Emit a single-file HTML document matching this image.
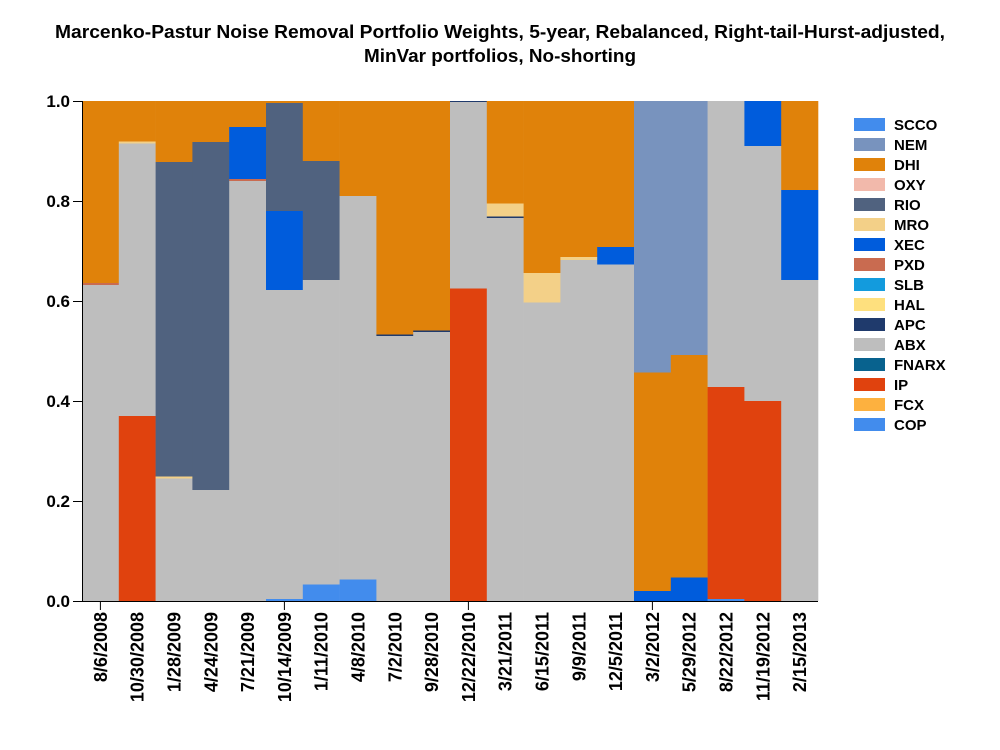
<!DOCTYPE html>
<html><head><meta charset="utf-8"><style>body{margin:0;background:#fff}svg{display:block;font-family:"Liberation Sans",Arial,sans-serif;font-weight:bold}</style></head>
<body>
<svg width="1000" height="750" viewBox="0 0 1000 750" xmlns="http://www.w3.org/2000/svg">
<text x="500" y="38" text-anchor="middle" font-size="18" textLength="890" lengthAdjust="spacingAndGlyphs">Marcenko-Pastur Noise Removal Portfolio Weights, 5-year, Rebalanced, Right-tail-Hurst-adjusted,</text>
<text x="500" y="62" text-anchor="middle" font-size="18" textLength="272" lengthAdjust="spacingAndGlyphs">MinVar portfolios, No-shorting</text>
<g id="bars"></g>
<line x1="82.5" y1="101" x2="82.5" y2="601" stroke="#000"/>
<line x1="82" y1="601.5" x2="818" y2="601.5" stroke="#000"/>
<g id="axes" font-size="18"></g>
<g id="leg" font-size="15"></g>
<script>
const C={SCCO:"#428ced",NEM:"#7893be",DHI:"#e0820a",OXY:"#f2b9ab",RIO:"#50627f",MRO:"#f3d088",XEC:"#005cdc",PXD:"#c96b50",SLB:"#139bdd",HAL:"#fee07e",APC:"#1f3a6c",ABX:"#bebebe",FNARX:"#08628e",IP:"#e0420e",FCX:"#fdb13f",COP:"#428ced"};
const D=[
[["ABX",.632],["PXD",.004],["DHI",1]],
[["IP",.37],["ABX",.545],["MRO",.004],["DHI",1]],
[["ABX",.245],["MRO",.004],["RIO",.629],["DHI",1]],
[["ABX",.222],["RIO",.696],["DHI",1]],
[["ABX",.84],["PXD",.004],["XEC",.104],["DHI",1]],
[["COP",.004],["ABX",.618],["XEC",.158],["RIO",.216],["DHI",1]],
[["COP",.033],["ABX",.609],["RIO",.238],["DHI",1]],
[["COP",.043],["ABX",.767],["DHI",1]],
[["ABX",.53],["APC",.003],["DHI",1]],
[["ABX",.538],["APC",.003],["DHI",1]],
[["IP",.625],["ABX",.373],["APC",1]],
[["ABX",.766],["APC",.003],["MRO",.026],["DHI",1]],
[["ABX",.597],["MRO",.059],["DHI",1]],
[["ABX",.682],["MRO",.006],["DHI",1]],
[["ABX",.673],["XEC",.035],["DHI",1]],
[["XEC",.02],["DHI",.437],["NEM",1]],
[["XEC",.047],["DHI",.445],["NEM",1]],
[["COP",.004],["IP",.424],["ABX",1]],
[["IP",.4],["ABX",.51],["XEC",1]],
[["ABX",.642],["XEC",.18],["DHI",1]]];
const L=["8/6/2008","10/30/2008","1/28/2009","4/24/2009","7/21/2009","10/14/2009","1/11/2010","4/8/2010","7/2/2010","9/28/2010","12/22/2010","3/21/2011","6/15/2011","9/9/2011","12/5/2011","3/2/2012","5/29/2012","8/22/2012","11/19/2012","2/15/2013"];
const ns="http://www.w3.org/2000/svg";
function el(p,t,a,txt){const e=document.createElementNS(ns,t);for(const k in a)e.setAttribute(k,a[k]);if(txt)e.textContent=txt;p.appendChild(e);return e;}
const B=document.getElementById("bars"),A=document.getElementById("axes"),G=document.getElementById("leg");
const w=736/20;
D.forEach((s,i)=>{let c=0;const x=82+i*w;s.forEach(([k,v])=>{let top=Math.min(1,c+v);const y1=601-top*500,y0=601-c*500;el(B,"rect",{x:x.toFixed(2),y:y1.toFixed(2),width:(w+0.3).toFixed(2),height:(y0-y1).toFixed(2),fill:C[k]});c=top;});
const cx=x+w/2;el(A,"text",{transform:`translate(${(cx+6.5).toFixed(1)},612) rotate(-90)`,"text-anchor":"end"},L[i]);});
[0,5,10,15].forEach(i=>{const cx=82+i*w+w/2;el(A,"line",{x1:cx,y1:601,x2:cx,y2:610,stroke:"#000"});});
for(let k=0;k<=5;k++){const y=601-k*100;el(A,"line",{x1:73,y1:y+.5,x2:82,y2:y+.5,stroke:"#000"});el(A,"text",{x:70,y:y+6,"text-anchor":"end","font-size":"17"},(k/5).toFixed(1));}
Object.keys(C).forEach((k,i)=>{const y=118+i*20;el(G,"rect",{x:854,y:y,width:31,height:13,fill:C[k]});el(G,"text",{x:894,y:y+12},k);});
</script>
</svg>
</body></html>
